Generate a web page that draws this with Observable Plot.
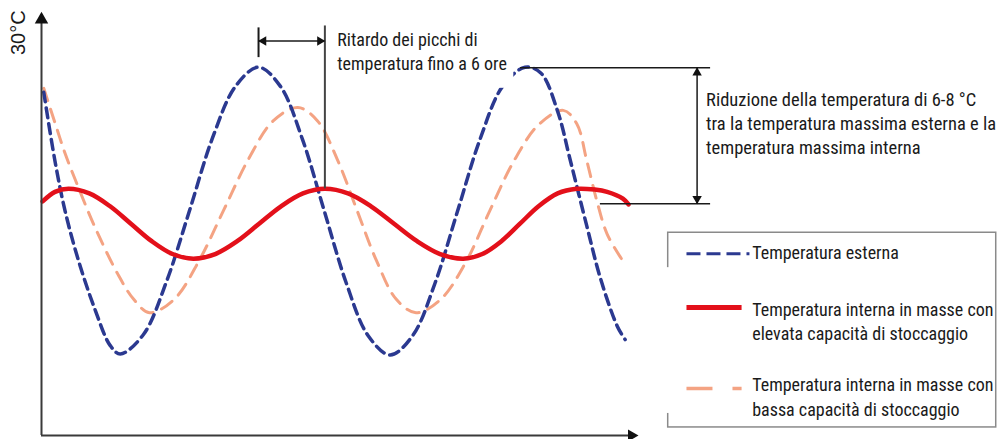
<!DOCTYPE html>
<html><head><meta charset="utf-8">
<script src="https://cdn.jsdelivr.net/npm/d3@7"></script>
<script src="https://cdn.jsdelivr.net/npm/@observablehq/plot@0.6"></script>
<style>
html,body{margin:0;padding:0;background:#fff;}
svg{display:block;}
</style></head><body>
<div id="chart"></div>
<script>
// ---- series data (hours, °C) ----
const blueHours = [0.2,1.2,2.1,3.3,4.8,6.1,7.0,9.05,11.1,13.15,15.2,17.25,19.3,21.25,23.2,25.15,27.1,29.05,31.0,33.0,35.0,37.0,39.0,41.0,43.0,44.4,45.9,47.0,48.5,49.7,51.2,51.9];
const blueTemps = [25.9,22.3,19.7,17.1,14.5,12.7,12.25,13.25,16.0,19.7,23.5,26.2,27.2,26.2,23.45,19.7,15.95,13.2,12.2,13.2,15.95,19.7,23.45,26.2,27.2,26.9,24.9,22.4,18.9,16.2,13.7,13.0];
const redHours = [0.1,1.2,2.4,4.25,6.1,7.95,9.8,11.65,13.5,15.45,17.4,19.35,21.3,23.25,25.2,27.25,29.3,31.35,33.4,35.45,37.5,39.2,40.9,42.55,44.2,45.9,47.6,49.2,50.3,51.7,52.2];
const redTemps = [20.2,20.7,20.86,20.62,19.95,19.04,18.13,17.46,17.22,17.46,18.13,19.04,19.95,20.62,20.86,20.62,19.95,19.04,18.13,17.46,17.22,17.46,18.13,19.04,19.95,20.62,20.86,20.82,20.7,20.35,20.05];
const orangeHours = [0.2,1.2,2.1,3.3,4.8,6.8,8.2,9.6,11.8,14.0,16.2,18.4,20.6,22.8,24.55,26.3,28.05,29.8,31.55,33.3,35.5,37.7,39.85,42.0,44.2,46.4,47.6,48.5,49.4,50.3,51.7];
const orangeTemps = [26.1,24.3,22.7,20.9,18.8,16.4,15.1,14.4,15.1,17.1,19.75,22.4,24.4,25.1,24.4,22.4,19.75,17.1,15.1,14.4,15.1,17.0,19.7,22.3,24.2,24.95,24.25,22.3,20.2,18.5,17.1];

// ---- texts ----
const yAxisLabel = "30°C";
const delayText = "Ritardo dei picchi di\ntemperatura fino a 6 ore";
const reductionText = "Riduzione della temperatura di 6-8 °C\ntra la temperatura massima esterna e la\ntemperatura massima interna";
const legendLabels = ["Temperatura esterna",
  "Temperatura interna in masse con\nelevata capacità di stoccaggio",
  "Temperatura interna in masse con\nbassa capacità di stoccaggio"];

const colors = {blue:"#2b3990", red:"#e3101a", orange:"#f4a383", axis:"#3a3a3a", ink:"#1a1a1a"};
const FONT = "'Liberation Sans Narrow','Arial Narrow','Roboto Condensed',Roboto,sans-serif";

const zip = (hs, ts) => hs.map((h,i)=>({h, t: ts[i]}));
const blue = zip(blueHours, blueTemps);
const red = zip(redHours, redTemps);
const orange = zip(orangeHours, orangeTemps);

// annotation anchors (in chart units: hours, °C)
const delayLeft = 19.3, delayRight = 25.2, delayY = 28.57;
const peakExt = 27.17, peakInt = 20.08, redX = 58.3;

const chart = Plot.plot({
  width: 997, height: 439,
  marginLeft: 41, marginRight: 360, marginTop: 13, marginBottom: 4,
  x: {domain: [0, 53], axis: null},
  y: {domain: [8, 30], axis: null},
  style: {fontFamily: FONT, background: "#fff"},
  marks: [
    // curves
    Plot.line(orange, {x:"h", y:"t", curve:"catmull-rom", stroke: colors.orange, strokeWidth: 3, strokeDasharray: "13,9"}),
    Plot.line(blue, {x:"h", y:"t", curve:"catmull-rom", stroke: colors.blue, strokeWidth: 3.5, strokeDasharray: "10,6"}),
    Plot.line(red, {x:"h", y:"t", curve:"catmull-rom", stroke: colors.red, strokeWidth: 4.5}),
    // axes
    Plot.ruleX([0], {y1: 8, y2: 29.5, stroke: colors.axis, strokeWidth: 2}),
    Plot.ruleY([8], {x1: 0, x2: 52.5, stroke: colors.axis, strokeWidth: 2}),
    Plot.dot([{x:0, y:30}], {x:"x", y:"y", symbol:"triangle", r:5, fill:"#111", stroke:"none", dy:6}),
    Plot.dot([{x:53, y:8}], {x:"x", y:"y", symbol:"triangle", r:4.5, fill:"#111", stroke:"none", rotate:90, dx:-6}),
    Plot.text([yAxisLabel], {x: -2.0, y: 29.0, rotate:-90, textAnchor:"middle", fontSize:20, fill:colors.ink, fontFamily:"'Liberation Sans',Arial,sans-serif"}),
    // delay annotation
    Plot.rect([{x1:25.7, x2:42.0, y1:26.1, y2:29.6}], {x1:"x1", x2:"x2", y1:"y1", y2:"y2", fill:"#fff"}),
    Plot.ruleX([delayLeft], {y1: 27.7, y2: 29.25, stroke: colors.ink, strokeWidth: 2}),
    Plot.ruleX([delayRight], {y1: 20.86, y2: 29.35, stroke: "#444", strokeWidth: 2}),
    Plot.ruleY([delayY], {x1: delayLeft, x2: delayRight, stroke: colors.ink, strokeWidth: 1.5}),
    Plot.dot([{x:delayLeft, y:delayY}], {x:"x", y:"y", symbol:"triangle", r:3.5, fill:"#111", stroke:"none", rotate:-90, dx:5}),
    Plot.dot([{x:delayRight, y:delayY}], {x:"x", y:"y", symbol:"triangle", r:3.5, fill:"#111", stroke:"none", rotate:90, dx:-5}),
    Plot.text([delayText], {x: 26.3, y: 28.08, textAnchor:"start", lineAnchor:"middle", lineHeight:1.35, fontSize:18, fill:colors.ink}),
    // reduction annotation
    Plot.ruleY([peakExt], {x1: 42.6, x2: 59.5, stroke: colors.ink, strokeWidth: 1.5}),
    Plot.ruleY([peakInt], {x1: 49.7, x2: 59.5, stroke: colors.ink, strokeWidth: 1.5}),
    Plot.ruleX([redX], {y1: peakInt, y2: peakExt, stroke: colors.ink, strokeWidth: 1.5}),
    Plot.dot([{x:redX, y:peakExt}], {x:"x", y:"y", symbol:"triangle", r:3.5, fill:"#111", stroke:"none", dy:5}),
    Plot.dot([{x:redX, y:peakInt}], {x:"x", y:"y", symbol:"triangle", r:3.5, fill:"#111", stroke:"none", rotate:180, dy:-5}),
    Plot.text([reductionText], {x: 59.1, y: 24.35, textAnchor:"start", lineAnchor:"middle", lineHeight:1.3, fontSize:18.5, fill:colors.ink}),
    // legend
    Plot.rect([{x1:55.73, x2:84.9, y1:8.42, y2:18.57}], {x1:"x1", x2:"x2", y1:"y1", y2:"y2", fill:"#fff", stroke:"#8a8a8a", strokeWidth:1.5}),
    Plot.rect([{x1:55.3, x2:62.8, y1:9.15, y2:16.75}], {x1:"x1", x2:"x2", y1:"y1", y2:"y2", fill:"#fff"}),
    Plot.ruleY([17.48], {x1: 57.4, x2: 63.0, stroke: colors.blue, strokeWidth: 3, strokeDasharray:"14,6"}),
    Plot.ruleY([14.67], {x1: 57.4, x2: 62.3, stroke: colors.red, strokeWidth: 5}),
    Plot.ruleY([10.45], {x1: 57.4, x2: 62.3, stroke: colors.orange, strokeWidth: 3.5, strokeDasharray:"26,20"}),
    Plot.text([legendLabels[0]], {x: 63.2, y: 17.48, textAnchor:"start", fontSize:18, fill:colors.ink}),
    Plot.text([legendLabels[1]], {x: 63.2, y: 14.02, textAnchor:"start", lineAnchor:"middle", lineHeight:1.35, fontSize:18, fill:colors.ink}),
    Plot.text([legendLabels[2]], {x: 63.2, y: 10.08, textAnchor:"start", lineAnchor:"middle", lineHeight:1.35, fontSize:18, fill:colors.ink})
  ]
});
document.getElementById("chart").appendChild(chart);
</script>
</body></html>
